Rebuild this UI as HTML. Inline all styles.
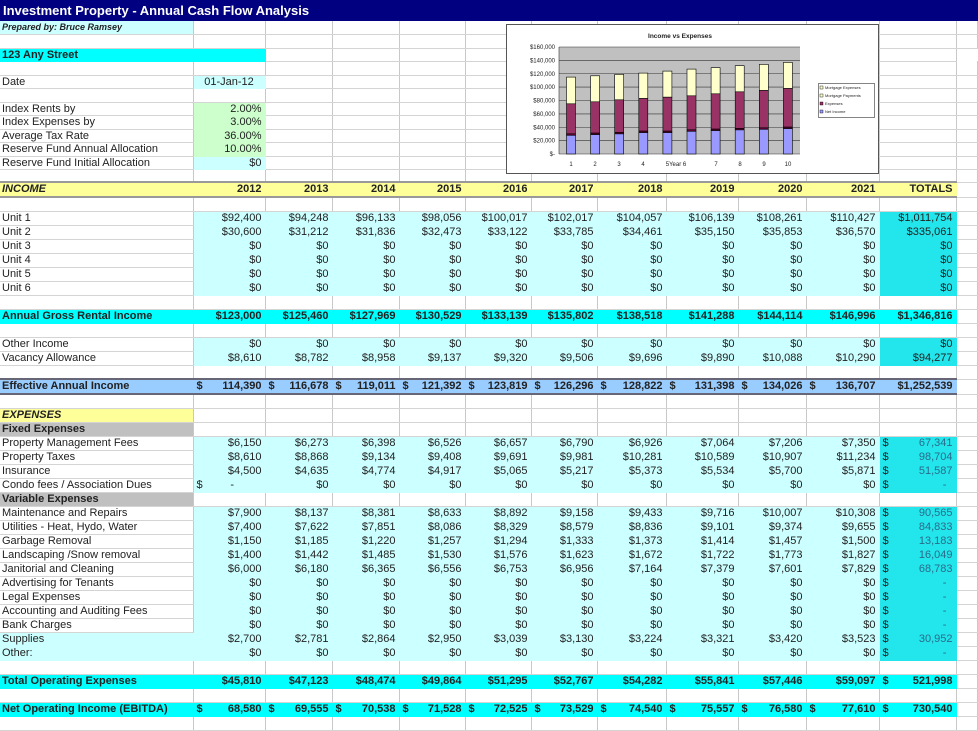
<!DOCTYPE html>
<html><head><meta charset="utf-8"><style>
body{margin:0;width:978px;height:720px;overflow:hidden;background:#fff;font-family:"Liberation Sans",Arial,sans-serif;font-size:11px;color:#222;position:relative}
#title{position:absolute;left:0;top:0;width:978px;height:21px;background:#000080;color:#fff;font-weight:bold;font-size:13px;line-height:21px;padding-left:3px;box-sizing:border-box}
table{position:absolute;left:0;top:21px;border-collapse:collapse;table-layout:fixed;width:978px}
td{padding:0 3px;text-align:right;border-right:1px solid #c8c8c8;border-bottom:1px solid #d4d4d4;white-space:nowrap;overflow:hidden;height:13px;line-height:13px;box-sizing:border-box}
td:first-child{text-align:left;padding-left:2px}
tr.s td{height:13px;line-height:12px}
tr.s.t td{height:14px;line-height:13px}
tr.m td{height:14px}
tr.d td:nth-child(n+2):nth-child(-n+11){background:#ccffff;border-color:#ccffff}
tr.d td:nth-child(12){background:#22e6ec;border-color:#22e6ec}
tr.dl td:first-child{background:#ccffff;border-color:#ccffff}
tr.h td:nth-child(-n+12){background:#00ffff;font-weight:bold;border-color:#00ffff}
tr.y td:nth-child(-n+12){background:#ffff99;font-weight:bold;border-top:2px solid #999;border-bottom:2px solid #999;border-right-color:#ffff99}
tr.y td:first-child{font-style:italic}
tr.e td:nth-child(-n+12){background:#99ccff;font-weight:bold;border-top:2px solid #667;border-bottom:2px solid #667;border-right-color:#99ccff}
.l{float:left}
.tv{color:#2a6b8a}
</style></head><body>
<div id="title">Investment Property - Annual Cash Flow Analysis</div>
<table>
<colgroup><col style="width:193px"><col style="width:72px"><col style="width:67px"><col style="width:67px"><col style="width:66px"><col style="width:66px"><col style="width:66px"><col style="width:69px"><col style="width:72px"><col style="width:68px"><col style="width:73px"><col style="width:77px"><col></colgroup>
<tr class="s"><td style="background:#ccffff;font-style:italic;font-weight:bold;font-size:9px">Prepared by: Bruce Ramsey</td><td></td><td></td><td></td><td></td><td></td><td></td><td></td><td></td><td></td><td></td><td></td><td></td></tr>
<tr class="s t"><td></td><td></td><td></td><td></td><td></td><td></td><td></td><td></td><td></td><td></td><td></td><td></td><td></td></tr>
<tr class="s"><td colspan="2" style="background:#00ffff;font-weight:bold;border-color:#00ffff">123 Any Street</td><td></td><td></td><td></td><td></td><td></td><td></td><td></td><td></td><td></td><td></td></tr>
<tr class="s t"><td></td><td></td><td></td><td></td><td></td><td></td><td></td><td></td><td></td><td></td><td></td><td></td><td></td></tr>
<tr class="s"><td>Date</td><td style="background:#ccffff;text-align:center;border-color:#ccffff">01-Jan-12</td><td></td><td></td><td></td><td></td><td></td><td></td><td></td><td></td><td></td><td></td><td></td></tr>
<tr class="s t"><td></td><td></td><td></td><td></td><td></td><td></td><td></td><td></td><td></td><td></td><td></td><td></td><td></td></tr>
<tr class="s"><td>Index Rents by</td><td style="background:#ccffcc;border-color:#ccffcc">2.00%</td><td></td><td></td><td></td><td></td><td></td><td></td><td></td><td></td><td></td><td></td><td></td></tr>
<tr class="s t"><td>Index Expenses by</td><td style="background:#ccffcc;border-color:#ccffcc">3.00%</td><td></td><td></td><td></td><td></td><td></td><td></td><td></td><td></td><td></td><td></td><td></td></tr>
<tr class="s"><td>Average Tax Rate</td><td style="background:#ccffcc;border-color:#ccffcc">36.00%</td><td></td><td></td><td></td><td></td><td></td><td></td><td></td><td></td><td></td><td></td><td></td></tr>
<tr class="s t"><td>Reserve Fund Annual Allocation</td><td style="background:#ccffcc;border-color:#ccffcc">10.00%</td><td></td><td></td><td></td><td></td><td></td><td></td><td></td><td></td><td></td><td></td><td></td></tr>
<tr class="s"><td>Reserve Fund Initial Allocation</td><td style="background:#ccffff;border-color:#ccffff">$0</td><td></td><td></td><td></td><td></td><td></td><td></td><td></td><td></td><td></td><td></td><td></td></tr>
<tr class="s"><td></td><td></td><td></td><td></td><td></td><td></td><td></td><td></td><td></td><td></td><td></td><td></td><td></td></tr>
<tr class="m y"><td>INCOME</td><td>2012</td><td>2013</td><td>2014</td><td>2015</td><td>2016</td><td>2017</td><td>2018</td><td>2019</td><td>2020</td><td>2021</td><td>TOTALS</td><td></td></tr>
<tr class="m"><td></td><td></td><td></td><td></td><td></td><td></td><td></td><td></td><td></td><td></td><td></td><td></td><td></td></tr>
<tr class="m d"><td>Unit 1</td><td>$92,400</td><td>$94,248</td><td>$96,133</td><td>$98,056</td><td>$100,017</td><td>$102,017</td><td>$104,057</td><td>$106,139</td><td>$108,261</td><td>$110,427</td><td>$1,011,754</td><td></td></tr>
<tr class="m d"><td>Unit 2</td><td>$30,600</td><td>$31,212</td><td>$31,836</td><td>$32,473</td><td>$33,122</td><td>$33,785</td><td>$34,461</td><td>$35,150</td><td>$35,853</td><td>$36,570</td><td>$335,061</td><td></td></tr>
<tr class="m d"><td>Unit 3</td><td>$0</td><td>$0</td><td>$0</td><td>$0</td><td>$0</td><td>$0</td><td>$0</td><td>$0</td><td>$0</td><td>$0</td><td>$0</td><td></td></tr>
<tr class="m d"><td>Unit 4</td><td>$0</td><td>$0</td><td>$0</td><td>$0</td><td>$0</td><td>$0</td><td>$0</td><td>$0</td><td>$0</td><td>$0</td><td>$0</td><td></td></tr>
<tr class="m d"><td>Unit 5</td><td>$0</td><td>$0</td><td>$0</td><td>$0</td><td>$0</td><td>$0</td><td>$0</td><td>$0</td><td>$0</td><td>$0</td><td>$0</td><td></td></tr>
<tr class="m d"><td>Unit 6</td><td>$0</td><td>$0</td><td>$0</td><td>$0</td><td>$0</td><td>$0</td><td>$0</td><td>$0</td><td>$0</td><td>$0</td><td>$0</td><td></td></tr>
<tr class="m"><td></td><td></td><td></td><td></td><td></td><td></td><td></td><td></td><td></td><td></td><td></td><td></td><td></td></tr>
<tr class="m h"><td>Annual Gross Rental Income</td><td>$123,000</td><td>$125,460</td><td>$127,969</td><td>$130,529</td><td>$133,139</td><td>$135,802</td><td>$138,518</td><td>$141,288</td><td>$144,114</td><td>$146,996</td><td>$1,346,816</td><td></td></tr>
<tr class="m"><td></td><td></td><td></td><td></td><td></td><td></td><td></td><td></td><td></td><td></td><td></td><td></td><td></td></tr>
<tr class="m d"><td>Other Income</td><td>$0</td><td>$0</td><td>$0</td><td>$0</td><td>$0</td><td>$0</td><td>$0</td><td>$0</td><td>$0</td><td>$0</td><td>$0</td><td></td></tr>
<tr class="m d"><td>Vacancy Allowance</td><td>$8,610</td><td>$8,782</td><td>$8,958</td><td>$9,137</td><td>$9,320</td><td>$9,506</td><td>$9,696</td><td>$9,890</td><td>$10,088</td><td>$10,290</td><td>$94,277</td><td></td></tr>
<tr class="m"><td></td><td></td><td></td><td></td><td></td><td></td><td></td><td></td><td></td><td></td><td></td><td></td><td></td></tr>
<tr class="m e"><td>Effective Annual Income</td><td><span class="l">$</span>114,390</td><td><span class="l">$</span>116,678</td><td><span class="l">$</span>119,011</td><td><span class="l">$</span>121,392</td><td><span class="l">$</span>123,819</td><td><span class="l">$</span>126,296</td><td><span class="l">$</span>128,822</td><td><span class="l">$</span>131,398</td><td><span class="l">$</span>134,026</td><td><span class="l">$</span>136,707</td><td>$1,252,539</td><td></td></tr>
<tr class="m"><td></td><td></td><td></td><td></td><td></td><td></td><td></td><td></td><td></td><td></td><td></td><td></td><td></td></tr>
<tr class="m"><td style="background:#ffff99;font-weight:bold;font-style:italic">EXPENSES</td><td></td><td></td><td></td><td></td><td></td><td></td><td></td><td></td><td></td><td></td><td></td><td></td></tr>
<tr class="m"><td style="background:#c0c0c0;font-weight:bold">Fixed Expenses</td><td></td><td></td><td></td><td></td><td></td><td></td><td></td><td></td><td></td><td></td><td></td><td></td></tr>
<tr class="m d"><td>Property Management Fees</td><td>$6,150</td><td>$6,273</td><td>$6,398</td><td>$6,526</td><td>$6,657</td><td>$6,790</td><td>$6,926</td><td>$7,064</td><td>$7,206</td><td>$7,350</td><td><span class="l">$</span><span class="tv">67,341</span></td><td></td></tr>
<tr class="m d"><td>Property Taxes</td><td>$8,610</td><td>$8,868</td><td>$9,134</td><td>$9,408</td><td>$9,691</td><td>$9,981</td><td>$10,281</td><td>$10,589</td><td>$10,907</td><td>$11,234</td><td><span class="l">$</span><span class="tv">98,704</span></td><td></td></tr>
<tr class="m d"><td>Insurance</td><td>$4,500</td><td>$4,635</td><td>$4,774</td><td>$4,917</td><td>$5,065</td><td>$5,217</td><td>$5,373</td><td>$5,534</td><td>$5,700</td><td>$5,871</td><td><span class="l">$</span><span class="tv">51,587</span></td><td></td></tr>
<tr class="m d"><td>Condo fees / Association Dues</td><td><span class="l">$</span>-&nbsp;&nbsp;&nbsp;&nbsp;&nbsp;&nbsp;&nbsp;&nbsp;&nbsp;</td><td>$0</td><td>$0</td><td>$0</td><td>$0</td><td>$0</td><td>$0</td><td>$0</td><td>$0</td><td>$0</td><td><span class="l">$</span><span class="tv">-&nbsp;&nbsp;</span></td><td></td></tr>
<tr class="m"><td style="background:#c0c0c0;font-weight:bold">Variable Expenses</td><td></td><td></td><td></td><td></td><td></td><td></td><td></td><td></td><td></td><td></td><td></td><td></td></tr>
<tr class="m d"><td>Maintenance and Repairs</td><td>$7,900</td><td>$8,137</td><td>$8,381</td><td>$8,633</td><td>$8,892</td><td>$9,158</td><td>$9,433</td><td>$9,716</td><td>$10,007</td><td>$10,308</td><td><span class="l">$</span><span class="tv">90,565</span></td><td></td></tr>
<tr class="m d"><td>Utilities - Heat, Hydo, Water</td><td>$7,400</td><td>$7,622</td><td>$7,851</td><td>$8,086</td><td>$8,329</td><td>$8,579</td><td>$8,836</td><td>$9,101</td><td>$9,374</td><td>$9,655</td><td><span class="l">$</span><span class="tv">84,833</span></td><td></td></tr>
<tr class="m d"><td>Garbage Removal</td><td>$1,150</td><td>$1,185</td><td>$1,220</td><td>$1,257</td><td>$1,294</td><td>$1,333</td><td>$1,373</td><td>$1,414</td><td>$1,457</td><td>$1,500</td><td><span class="l">$</span><span class="tv">13,183</span></td><td></td></tr>
<tr class="m d"><td>Landscaping /Snow removal</td><td>$1,400</td><td>$1,442</td><td>$1,485</td><td>$1,530</td><td>$1,576</td><td>$1,623</td><td>$1,672</td><td>$1,722</td><td>$1,773</td><td>$1,827</td><td><span class="l">$</span><span class="tv">16,049</span></td><td></td></tr>
<tr class="m d"><td>Janitorial and Cleaning</td><td>$6,000</td><td>$6,180</td><td>$6,365</td><td>$6,556</td><td>$6,753</td><td>$6,956</td><td>$7,164</td><td>$7,379</td><td>$7,601</td><td>$7,829</td><td><span class="l">$</span><span class="tv">68,783</span></td><td></td></tr>
<tr class="m d"><td>Advertising for Tenants</td><td>$0</td><td>$0</td><td>$0</td><td>$0</td><td>$0</td><td>$0</td><td>$0</td><td>$0</td><td>$0</td><td>$0</td><td><span class="l">$</span><span class="tv">-&nbsp;&nbsp;</span></td><td></td></tr>
<tr class="m d"><td>Legal Expenses</td><td>$0</td><td>$0</td><td>$0</td><td>$0</td><td>$0</td><td>$0</td><td>$0</td><td>$0</td><td>$0</td><td>$0</td><td><span class="l">$</span><span class="tv">-&nbsp;&nbsp;</span></td><td></td></tr>
<tr class="m d"><td>Accounting and Auditing Fees</td><td>$0</td><td>$0</td><td>$0</td><td>$0</td><td>$0</td><td>$0</td><td>$0</td><td>$0</td><td>$0</td><td>$0</td><td><span class="l">$</span><span class="tv">-&nbsp;&nbsp;</span></td><td></td></tr>
<tr class="m d"><td>Bank Charges</td><td>$0</td><td>$0</td><td>$0</td><td>$0</td><td>$0</td><td>$0</td><td>$0</td><td>$0</td><td>$0</td><td>$0</td><td><span class="l">$</span><span class="tv">-&nbsp;&nbsp;</span></td><td></td></tr>
<tr class="m d dl"><td>Supplies</td><td>$2,700</td><td>$2,781</td><td>$2,864</td><td>$2,950</td><td>$3,039</td><td>$3,130</td><td>$3,224</td><td>$3,321</td><td>$3,420</td><td>$3,523</td><td><span class="l">$</span><span class="tv">30,952</span></td><td></td></tr>
<tr class="m d dl"><td>Other:</td><td>$0</td><td>$0</td><td>$0</td><td>$0</td><td>$0</td><td>$0</td><td>$0</td><td>$0</td><td>$0</td><td>$0</td><td><span class="l">$</span><span class="tv">-&nbsp;&nbsp;</span></td><td></td></tr>
<tr class="m"><td></td><td></td><td></td><td></td><td></td><td></td><td></td><td></td><td></td><td></td><td></td><td></td><td></td></tr>
<tr class="m h"><td>Total Operating Expenses</td><td>$45,810</td><td>$47,123</td><td>$48,474</td><td>$49,864</td><td>$51,295</td><td>$52,767</td><td>$54,282</td><td>$55,841</td><td>$57,446</td><td>$59,097</td><td><span class="l">$</span>521,998</td><td></td></tr>
<tr class="m"><td></td><td></td><td></td><td></td><td></td><td></td><td></td><td></td><td></td><td></td><td></td><td></td><td></td></tr>
<tr class="m h"><td>Net Operating Income (EBITDA)</td><td><span class="l">$</span>68,580</td><td><span class="l">$</span>69,555</td><td><span class="l">$</span>70,538</td><td><span class="l">$</span>71,528</td><td><span class="l">$</span>72,525</td><td><span class="l">$</span>73,529</td><td><span class="l">$</span>74,540</td><td><span class="l">$</span>75,557</td><td><span class="l">$</span>76,580</td><td><span class="l">$</span>77,610</td><td><span class="l">$</span>730,540</td><td></td></tr>
<tr class="m"><td></td><td></td><td></td><td></td><td></td><td></td><td></td><td></td><td></td><td></td><td></td><td></td><td></td></tr>
</table>
<svg style="position:absolute;left:0;top:0" width="978" height="720" font-family="Liberation Sans, Arial, sans-serif">
<rect x="506.5" y="24.5" width="372" height="149" fill="#fff" stroke="#555"/>
<text x="680" y="38" font-size="6.5" font-weight="bold" text-anchor="middle" fill="#222">Income vs Expenses</text>
<rect x="559" y="47" width="241" height="107" fill="#c0c0c0"/>
<g stroke="#333" stroke-width="0.6">
<line x1="559" y1="140.6" x2="800" y2="140.6"/><line x1="559" y1="127.25" x2="800" y2="127.25"/><line x1="559" y1="113.9" x2="800" y2="113.9"/><line x1="559" y1="100.5" x2="800" y2="100.5"/><line x1="559" y1="87.1" x2="800" y2="87.1"/><line x1="559" y1="73.75" x2="800" y2="73.75"/><line x1="559" y1="60.4" x2="800" y2="60.4"/><line x1="559" y1="47" x2="800" y2="47"/>
<line x1="559" y1="47" x2="559" y2="154"/><line x1="559" y1="154" x2="800" y2="154"/>
</g>
<g font-size="6" text-anchor="end" fill="#222">
<text x="555" y="156">$-</text><text x="555" y="142.6">$20,000</text><text x="555" y="129.3">$40,000</text><text x="555" y="115.9">$60,000</text><text x="555" y="102.5">$80,000</text><text x="555" y="89.1">$100,000</text><text x="555" y="75.8">$120,000</text><text x="555" y="62.4">$140,000</text><text x="555" y="49">$160,000</text>
</g>
<g font-size="6" text-anchor="middle" fill="#222">
<text x="571" y="166">1</text><text x="595" y="166">2</text><text x="619" y="166">3</text><text x="643" y="166">4</text><text x="676" y="166">5Year 6</text><text x="716" y="166">7</text><text x="740" y="166">8</text><text x="764" y="166">9</text><text x="788" y="166">10</text>
</g>
<g stroke="#000" stroke-width="0.6">
<rect x="566.5" y="77.1" width="9" height="26.7" fill="#ffffcc"/><rect x="566.5" y="103.8" width="9" height="30" fill="#993366"/><rect x="566.5" y="133.8" width="9" height="1.5" fill="#660033"/><rect x="566.5" y="135.3" width="9" height="18.7" fill="#9999ff"/>
<rect x="590.6" y="75.8" width="9" height="26" fill="#ffffcc"/><rect x="590.6" y="101.8" width="9" height="31.3" fill="#993366"/><rect x="590.6" y="133.1" width="9" height="1.5" fill="#660033"/><rect x="590.6" y="134.6" width="9" height="19.4" fill="#9999ff"/>
<rect x="614.7" y="74.4" width="9" height="25.4" fill="#ffffcc"/><rect x="614.7" y="99.8" width="9" height="32.6" fill="#993366"/><rect x="614.7" y="132.4" width="9" height="1.5" fill="#660033"/><rect x="614.7" y="133.9" width="9" height="20.1" fill="#9999ff"/>
<rect x="638.8" y="73.1" width="9" height="25.4" fill="#ffffcc"/><rect x="638.8" y="98.5" width="9" height="32.6" fill="#993366"/><rect x="638.8" y="131.1" width="9" height="1.5" fill="#660033"/><rect x="638.8" y="132.6" width="9" height="21.4" fill="#9999ff"/>
<rect x="662.9" y="71.1" width="9" height="26.1" fill="#ffffcc"/><rect x="662.9" y="97.2" width="9" height="33.9" fill="#993366"/><rect x="662.9" y="131.1" width="9" height="1.5" fill="#660033"/><rect x="662.9" y="132.6" width="9" height="21.4" fill="#9999ff"/>
<rect x="687" y="69.1" width="9" height="26.7" fill="#ffffcc"/><rect x="687" y="95.8" width="9" height="34" fill="#993366"/><rect x="687" y="129.8" width="9" height="1.5" fill="#660033"/><rect x="687" y="131.3" width="9" height="22.7" fill="#9999ff"/>
<rect x="711.1" y="67.7" width="9" height="26.1" fill="#ffffcc"/><rect x="711.1" y="93.8" width="9" height="35.3" fill="#993366"/><rect x="711.1" y="129.1" width="9" height="1.5" fill="#660033"/><rect x="711.1" y="130.6" width="9" height="23.4" fill="#9999ff"/>
<rect x="735.2" y="65.7" width="9" height="26.1" fill="#ffffcc"/><rect x="735.2" y="91.8" width="9" height="36.6" fill="#993366"/><rect x="735.2" y="128.4" width="9" height="1.5" fill="#660033"/><rect x="735.2" y="129.9" width="9" height="24.1" fill="#9999ff"/>
<rect x="759.3" y="64.4" width="9" height="26.1" fill="#ffffcc"/><rect x="759.3" y="90.5" width="9" height="37.3" fill="#993366"/><rect x="759.3" y="127.8" width="9" height="1.5" fill="#660033"/><rect x="759.3" y="129.3" width="9" height="24.7" fill="#9999ff"/>
<rect x="783.4" y="62.4" width="9" height="26.1" fill="#ffffcc"/><rect x="783.4" y="88.5" width="9" height="38.6" fill="#993366"/><rect x="783.4" y="127.1" width="9" height="1.5" fill="#660033"/><rect x="783.4" y="128.6" width="9" height="25.4" fill="#9999ff"/>
</g>
<rect x="818.5" y="83.5" width="56" height="34" fill="#fff" stroke="#333" stroke-width="0.6"/>
<g font-size="4" fill="#222">
<rect x="820" y="86" width="3" height="3" fill="#ffffcc" stroke="#000" stroke-width="0.4"/><text x="825" y="89">Mortgage Expenses</text>
<rect x="820" y="94" width="3" height="3" fill="#ffffcc" stroke="#000" stroke-width="0.4"/><text x="825" y="97">Mortgage Payments</text>
<rect x="820" y="102" width="3" height="3" fill="#993366" stroke="#000" stroke-width="0.4"/><text x="825" y="105">Expenses</text>
<rect x="820" y="110" width="3" height="3" fill="#9999ff" stroke="#000" stroke-width="0.4"/><text x="825" y="113">Net Income</text>
</g>
</svg>
</body></html>
